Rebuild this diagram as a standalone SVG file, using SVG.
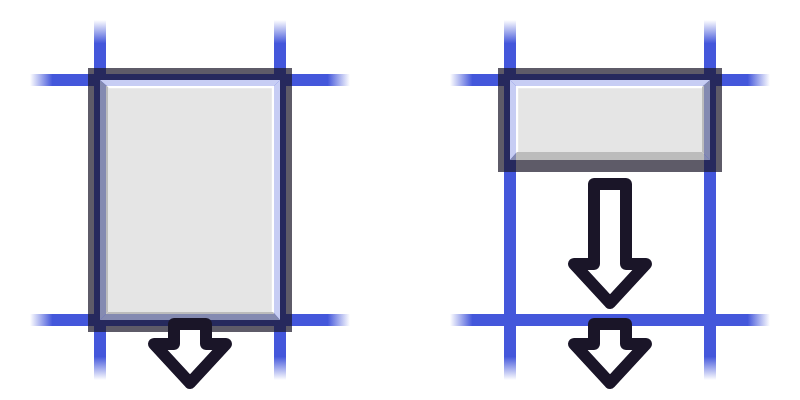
<svg xmlns="http://www.w3.org/2000/svg" width="800" height="400" viewBox="0 0 800 400">
  <defs>
    <linearGradient id="gh" x1="0" y1="0" x2="1" y2="0">
      <stop offset="0" stop-color="#4457db" stop-opacity="0"/>
      <stop offset="0.07" stop-color="#4457db" stop-opacity="1"/>
      <stop offset="0.93" stop-color="#4457db" stop-opacity="1"/>
      <stop offset="1" stop-color="#4457db" stop-opacity="0"/>
    </linearGradient>
    <linearGradient id="gv" x1="0" y1="0" x2="0" y2="1">
      <stop offset="0" stop-color="#4457db" stop-opacity="0"/>
      <stop offset="0.065" stop-color="#4457db" stop-opacity="1"/>
      <stop offset="0.935" stop-color="#4457db" stop-opacity="1"/>
      <stop offset="1" stop-color="#4457db" stop-opacity="0"/>
    </linearGradient>
  </defs>
  <style>
    .gh { fill: url(#gh); }
    .gv { fill: url(#gv); }
    .lt { fill: #ffffff; fill-opacity: 0.7; }
    .dk { fill: #a0a0a0; fill-opacity: 0.7; }
    .face { fill: #e5e5e5; }
    .hl { fill: none; stroke: #ffffff; stroke-width: 1.2; }
    .frame { fill: none; stroke: #1a1528; stroke-opacity: 0.7; stroke-width: 12; }
    .arrow { fill: #ffffff; stroke: #1a1528; stroke-width: 12; stroke-linejoin: round; }
  </style>

  <g id="grid-left">
    <rect class="gh" x="30" y="74" width="320" height="12"/>
    <rect class="gh" x="30" y="314" width="320" height="12"/>
    <rect class="gv" x="94" y="20" width="12" height="360"/>
    <rect class="gv" x="274" y="20" width="12" height="360"/>
  </g>
  <g id="grid-right">
    <rect class="gh" x="450" y="74" width="320" height="12"/>
    <rect class="gh" x="450" y="314" width="320" height="12"/>
    <rect class="gv" x="504" y="20" width="12" height="360"/>
    <rect class="gv" x="704" y="20" width="12" height="360"/>
  </g>

  <g id="box-left">
    <polygon class="lt" points="100,80 280,80 273,87 108,87"/>
    <polygon class="lt" points="280,80 280,320 273,312 273,87"/>
    <polygon class="dk" points="100,320 280,320 273,312 108,312"/>
    <polygon class="dk" points="100,80 108,87 108,312 100,320"/>
    <rect class="face" x="108" y="87" width="165" height="225"/>
    <polyline class="hl" points="108.5,87.6 272.4,87.6 272.4,312"/>
    <rect class="frame" x="94" y="74" width="192" height="252"/>
  </g>

  <g id="box-right">
    <polygon class="lt" points="510,80 710,80 702,87 517,87"/>
    <polygon class="lt" points="510,80 517,87 517,152 510,160"/>
    <polygon class="dk" points="710,80 710,160 702,152 702,87"/>
    <polygon class="dk" points="510,160 710,160 702,152 517,152"/>
    <rect class="face" x="517" y="87" width="185" height="65"/>
    <polyline class="hl" points="517.6,152 517.6,87.6 702,87.6"/>
    <rect class="frame" x="504" y="74" width="212" height="92"/>
  </g>

  <g id="connectors">
    <path class="arrow" d="M174,344 L174,324 L206,324 L206,344 L226,344 L190,383 L154,344 Z"/>
    <path class="arrow" d="M594,264 L594,184 L626,184 L626,264 L646,264 L610,303 L574,264 Z"/>
    <path class="arrow" d="M594,344 L594,324 L626,324 L626,344 L646,344 L610,383 L574,344 Z"/>
  </g>
</svg>
